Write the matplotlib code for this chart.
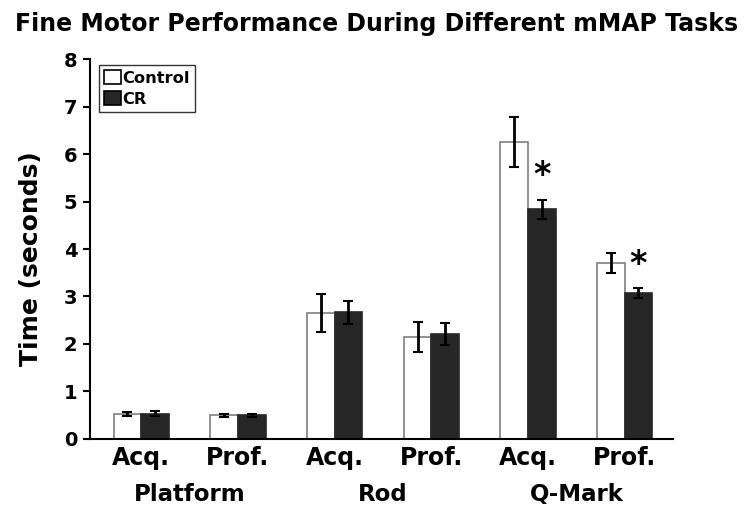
import matplotlib
matplotlib.use("Agg")
import matplotlib.pyplot as plt
import numpy as np

plt.rcParams['font.family'] = ['DejaVu Sans']
plt.rcParams['font.weight'] = 'bold'

tasks = ["Acq.", "Prof.", "Acq.", "Prof.", "Acq.", "Prof."]
groups = ["Platform", "Rod", "Q-Mark"]
control = [0.53, 0.50, 2.66, 2.15, 6.25, 3.71]
control_err = [0.04, 0.03, 0.40, 0.32, 0.52, 0.21]
cr = [0.53, 0.50, 2.67, 2.21, 4.84, 3.07]
cr_err = [0.05, 0.03, 0.24, 0.23, 0.20, 0.10]
sig_idx = [4, 5]
yticks = [0, 1, 2, 3, 4, 5, 6, 7, 8]

fig = plt.figure(figsize=(7.54, 5.2), dpi=100)
ax = fig.add_axes([0.1194, 0.1558, 0.7732, 0.7307])

x = np.arange(len(tasks))
w = 0.285
ekw = dict(elinewidth=2, capthick=1.5, ecolor='black')
ax.bar(x - w/2, control, w, color='white', edgecolor='#7f7f7f', linewidth=1.2,
       label='Control', zorder=2)
ax.bar(x + w/2, cr, w, color='#262626', edgecolor='#262626', linewidth=1.2,
       label='CR', zorder=2)
ax.errorbar(x - w/2, control, yerr=control_err, fmt='none', capsize=3.5, zorder=3, **ekw)
ax.errorbar(x + w/2, cr, yerr=cr_err, fmt='none', capsize=3.5, zorder=3, **ekw)

for i in sig_idx:
    ax.text(x[i] + w/2, cr[i] + cr_err[i] + 0.5, '*', ha='center', va='center',
            fontsize=24, fontweight='bold')

ax.set_xlim(-0.53, 5.5)
ax.set_ylim(0, 8)
ax.set_yticks(yticks)
ax.set_yticklabels([str(t) for t in yticks], fontsize=14, fontweight='bold')
ax.set_xticks(x)
ax.set_xticklabels(tasks, fontsize=17, fontweight='bold')
ax.tick_params(axis='x', length=0, pad=5)
ax.tick_params(axis='y', length=5, width=1.5, direction='out', pad=4)
for s in ['top', 'right']:
    ax.spines[s].set_visible(False)
for s in ['left', 'bottom']:
    ax.spines[s].set_linewidth(1.5)

for gi, g in enumerate(groups):
    ax.text((x[2*gi] + x[2*gi+1]) / 2, -0.147, g, transform=ax.get_xaxis_transform(),
            ha='center', va='center', fontsize=16.5, fontweight='bold')

ax.set_ylabel('Time (seconds)', fontsize=18, fontweight='bold')
ax.yaxis.set_label_coords(-0.08, 0.475)
fig.text(0.5, 0.954, 'Fine Motor Performance During Different mMAP Tasks',
         ha='center', va='center', fontsize=17, fontweight='bold')

leg = ax.legend(loc='upper left', bbox_to_anchor=(0.015, 0.984), fontsize=11.7,
                frameon=True, fancybox=False, edgecolor='black', handlelength=1.05,
                handleheight=0.95, handletextpad=0.1, borderpad=0.3, labelspacing=0.35,
                borderaxespad=0)
leg.get_frame().set_linewidth(1.0)
for p in leg.get_patches():
    p.set_edgecolor('black')

fig.savefig('out.png', dpi=100)
